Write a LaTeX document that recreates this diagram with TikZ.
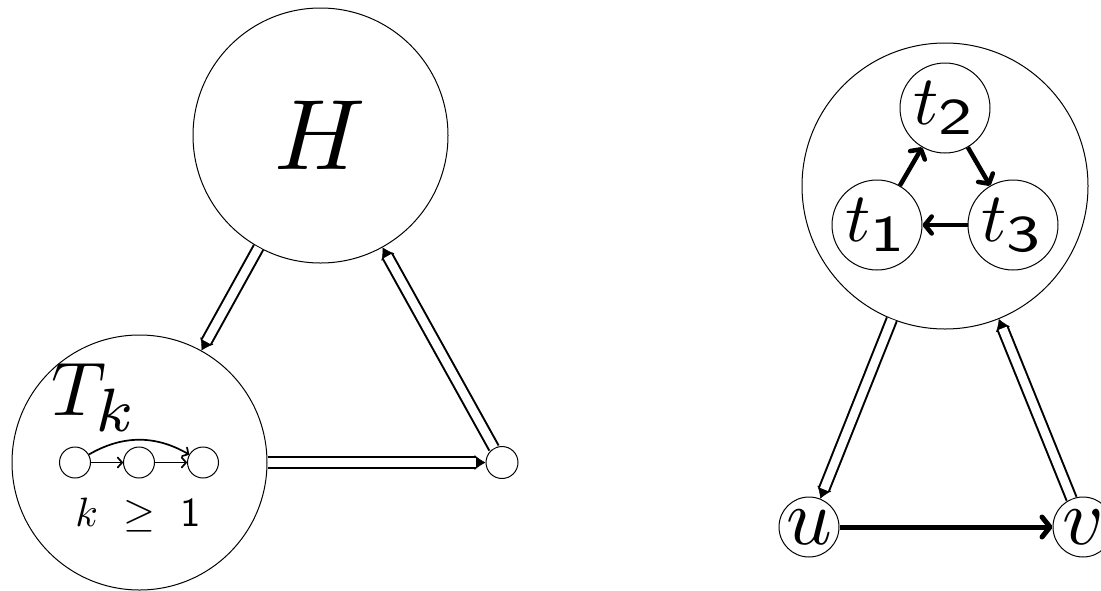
\documentclass[tikz,border=0pt]{standalone}
\usepackage{graphicx}
\usetikzlibrary{arrows.meta}
\newcommand{\tsub}[1]{t_{\scalebox{1.3}[1.05]{$\scriptstyle\mathsf{#1}$}}}
\begin{document}
\begin{tikzpicture}[x=1pt,y=-1pt,
  circ/.style={circle,draw,line width=1pt,inner sep=0pt},
  dbl/.style={double,double distance=8.5pt,line width=2pt,shorten >=10pt},
  dtip/.style={white,line width=0.4pt,-{Latex[length=11pt,width=15pt,color=black]}},
  thk/.style={line width=5pt,-{Straight Barb[length=8pt,width=20pt,round]}},
  mid/.style={line width=4.5pt,-{Straight Barb[length=7pt,width=17pt,round]}},
  thn/.style={line width=1.7pt,-{Straight Barb[length=4.5pt,width=10pt,round]}},
]
\useasboundingbox (0,0) rectangle (1101,590);
% left part
\node[circ,minimum size=255pt] (H) at (320.5,135.5) {\scalebox{10}{$H$}};
\node[circ,minimum size=255pt] (Tk) at (139.5,462.5) {};
\node[anchor=base west,inner sep=0pt] (Tklabel) at (51,415) {\scalebox{7.6}{$T_{\scalebox{1.15}{$\scriptstyle k$}}$}};
\node[circ,minimum size=31pt] (a1) at (75,462.5) {};
\node[circ,minimum size=31pt] (a2) at (139,462.5) {};
\node[circ,minimum size=31pt] (a3) at (203,462.5) {};
\node[inner sep=0pt] (klabel) at (138,515) {\scalebox{4.1}{$k\mkern6mu\geq\mkern6mu\mathsf{1}$}};
\node[circ,minimum size=32pt] (s) at (502,462.5) {};
\draw[thn] (a1) -- (a2);
\draw[thn] (a2) -- (a3);
\draw[thn] (a1) to[bend left=30] (a3);
\draw[dtip] (H) -- (Tk);
\draw[dbl] (H) -- (Tk);
\draw[dtip] (Tk) -- (s);
\draw[dbl] (Tk) -- (s);
\draw[dtip] (s) -- (H);
\draw[dbl] (s) -- (H);
% right part
\node[circ,minimum size=286pt] (B) at (945,186) {};
\node[circ,minimum size=90pt] (t2) at (945,108) {\scalebox{7}{$\tsub{2}$}};
\node[circ,minimum size=90pt] (t1) at (877,225) {\scalebox{7}{$\tsub{1}$}};
\node[circ,minimum size=90pt] (t3) at (1013,225) {\scalebox{7}{$\tsub{3}$}};
\node[circ,minimum size=60pt] (u) at (809,527) {\scalebox{8}{$u$}};
\node[circ,minimum size=60pt] (v) at (1083,527) {\scalebox{8}{$v$}};
\draw[mid] (t1) -- (t2);
\draw[mid] (t2) -- (t3);
\draw[mid] (t3) -- (t1);
\draw[thk] (u) -- (v);
\draw[dtip] (B) -- (u);
\draw[dbl] (B) -- (u);
\draw[dtip] (v) -- (B);
\draw[dbl] (v) -- (B);
\end{tikzpicture}
\end{document}
